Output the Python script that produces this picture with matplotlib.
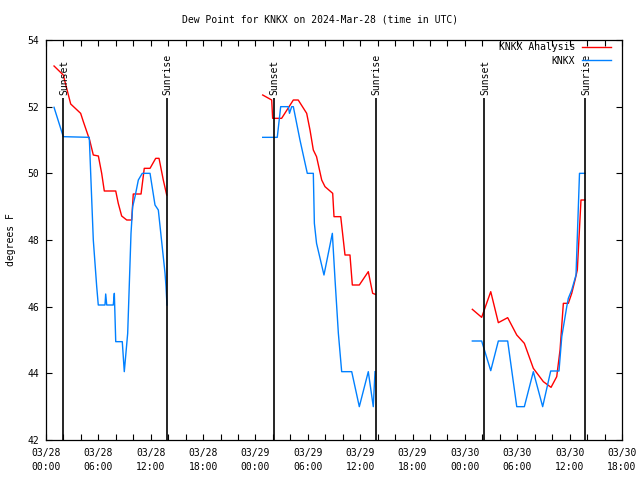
import matplotlib
matplotlib.use("Agg")
import matplotlib.pyplot as plt
from matplotlib.ticker import MultipleLocator, FixedLocator

# hours since 03/28 00:00 UTC
tick_hours = [0, 6, 12, 18, 24, 30, 36, 42, 48, 54, 60, 66]
tick_labels = ["03/28\n00:00", "03/28\n06:00", "03/28\n12:00", "03/28\n18:00",
               "03/29\n00:00", "03/29\n06:00", "03/29\n12:00", "03/29\n18:00",
               "03/30\n00:00", "03/30\n06:00", "03/30\n12:00", "03/30\n18:00"]

sunset_hours = [1.95, 26.1, 50.2]
sunrise_hours = [13.85, 37.8, 61.8]

# KNKX Analysis (red), three night segments
ana_h1 = [0.92, 1.98, 2.37, 2.83, 3.97, 4.28, 5.0, 5.42, 6.0, 6.38, 6.68, 7.99, 8.28,
          8.67, 9.25, 9.82, 10.0, 10.89, 11.26, 11.92, 12.57, 12.95, 13.44, 13.83]
ana_t1 = [53.22, 52.95, 52.55, 52.08, 51.8, 51.55, 51.0, 50.55, 50.52, 50.0, 49.47, 49.47, 49.1,
          48.72, 48.6, 48.6, 49.38, 49.38, 50.15, 50.15, 50.45, 50.45, 49.8, 49.35]
ana_h2 = [24.83, 25.86, 25.97, 27.0, 28.34, 28.9, 29.87, 30.25, 30.63, 31.0, 31.59, 31.97,
          32.85, 33.0, 33.77, 34.26, 34.83, 35.1, 35.9, 36.93, 37.43, 37.74]
ana_t2 = [52.35, 52.2, 51.65, 51.65, 52.2, 52.2, 51.8, 51.3, 50.7, 50.5, 49.8, 49.6,
          49.4, 48.7, 48.7, 47.55, 47.55, 46.65, 46.65, 47.05, 46.4, 46.37]
ana_h3 = [48.85, 49.92, 50.96, 51.83, 52.9, 53.94, 54.81, 55.84, 56.99, 57.87, 58.52, 58.9,
          59.28, 59.85, 60.24, 60.62, 60.88, 61.3, 61.76]
ana_t3 = [45.92, 45.68, 46.45, 45.52, 45.67, 45.15, 44.9, 44.15, 43.75, 43.58, 43.9, 44.7,
          46.1, 46.1, 46.4, 46.8, 47.1, 49.2, 49.2]

# KNKX observations (blue)
obs_h1 = [0.92, 1.98, 4.96, 5.24, 5.42, 5.81, 5.99, 6.76, 6.84, 6.96, 7.71, 7.83, 7.99,
          8.74, 8.97, 9.36, 9.74, 9.93, 10.2, 10.58, 11.03, 11.92, 12.49, 12.87, 13.64,
          13.75, 13.86]
obs_t1 = [51.98, 51.1, 51.08, 49.2, 48.0, 46.6, 46.05, 46.05, 46.38, 46.05, 46.05, 46.4, 44.95,
          44.95, 44.05, 45.2, 48.2, 49.0, 49.3, 49.8, 50.0, 50.0, 49.05, 48.9, 47.0,
          46.6, 46.05]
obs_h2 = [24.83, 26.5, 26.89, 27.77, 27.9, 28.15, 28.34, 29.1, 29.94, 30.63, 30.75, 31.0,
          31.85, 32.81, 33.12, 33.5, 33.88, 35.03, 35.9, 36.93, 37.5, 37.7]
obs_t2 = [51.08, 51.08, 52.0, 52.0, 51.8, 52.0, 52.0, 51.0, 50.0, 50.0, 48.5, 47.9,
          46.95, 48.2, 46.8, 45.2, 44.05, 44.05, 43.0, 44.05, 43.0, 44.05]
obs_h3 = [48.85, 49.92, 50.96, 51.83, 52.9, 53.94, 54.81, 55.84, 56.91, 57.83, 58.78, 59.1,
          59.67, 59.85, 60.24, 60.73, 61.13, 61.76]
obs_t3 = [44.97, 44.97, 44.08, 44.97, 44.97, 43.0, 43.0, 44.05, 43.0, 44.07, 44.07, 45.1,
          46.0, 46.25, 46.5, 46.95, 50.0, 50.0]

plt.rcParams['font.family'] = 'DejaVu Sans Mono'
plt.rcParams['font.size'] = 7

fig = plt.figure(figsize=(6.4, 4.8), dpi=100)
ax = fig.add_axes([46 / 640, 40 / 480, 576 / 640, 400 / 480])

red = '#ff0000'
blue = '#0080ff'
lw = 1.0

ax.plot(ana_h1, ana_t1, color=red, lw=lw, label='KNKX Analysis')
ax.plot(ana_h2, ana_t2, color=red, lw=lw)
ax.plot(ana_h3, ana_t3, color=red, lw=lw)
ax.plot(obs_h1, obs_t1, color=blue, lw=lw, label='KNKX')
ax.plot(obs_h2, obs_t2, color=blue, lw=lw)
ax.plot(obs_h3, obs_t3, color=blue, lw=lw)

ax.vlines(sunset_hours + sunrise_hours, 42, 52.26, color='black', lw=1.2)
for h in sunset_hours:
    ax.text(h + 0.1, 52.35, 'Sunset', rotation=90, ha='center', va='bottom')
for h in sunrise_hours:
    ax.text(h + 0.1, 52.35, 'Sunrise', rotation=90, ha='center', va='bottom')

ax.set_xlim(0, 66)
ax.set_ylim(42, 54)
ax.xaxis.set_major_locator(FixedLocator(tick_hours))
ax.set_xticklabels(tick_labels)
ax.xaxis.set_minor_locator(MultipleLocator(2))
ax.yaxis.set_major_locator(MultipleLocator(2))
ax.tick_params(which='both', direction='in', top=True, right=True, length=4, width=0.8)
ax.tick_params(axis='x', pad=6)
ax.tick_params(axis='y', pad=5)
for lab in ax.get_xticklabels():
    lab.set_linespacing(1.45)
for sp in ax.spines.values():
    sp.set_linewidth(0.9)

fig.text(11 / 640, 0.5, 'degrees F', rotation=90, ha='center', va='center')
fig.text(0.5, 1 - 20 / 480, 'Dew Point for KNKX on 2024-Mar-28 (time in UTC)',
         ha='center', va='center')

ax.legend(loc='upper right', bbox_to_anchor=(565 / 576, 1 - 2 / 400),
          markerfirst=False, frameon=False, handlelength=3,
          borderaxespad=0, borderpad=0, labelspacing=0.4, handletextpad=0.7)

fig.savefig('out.png', dpi=100)
